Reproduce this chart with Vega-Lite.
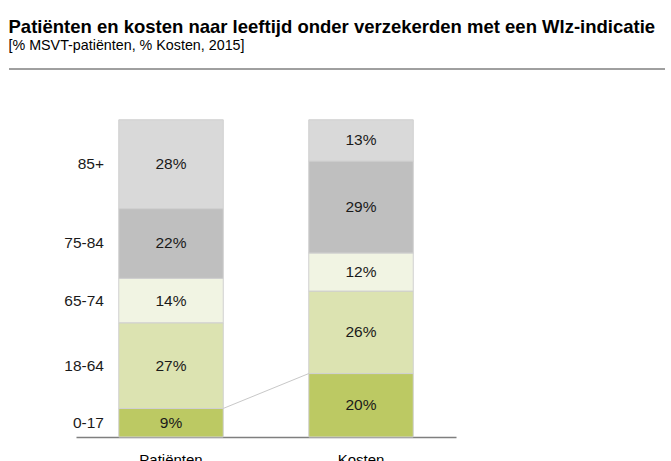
{
  "$schema": "https://vega.github.io/schema/vega-lite/v6.json",
  "width": 656,
  "height": 368,
  "padding": {"left": 8, "right": 7, "top": 17, "bottom": 0},
  "background": "white",
  "config": {
    "view": {"stroke": null},
    "font": "Liberation Sans",
    "title": {"font": "Liberation Sans", "subtitleFont": "Liberation Sans"}
  },
  "title": {
    "text": "Patiënten en kosten naar leeftijd onder verzekerden met een Wlz-indicatie",
    "subtitle": "[% MSVT-patiënten, % Kosten, 2015]",
    "anchor": "start",
    "fontSize": 18.5,
    "fontWeight": "bold",
    "color": "#000000",
    "subtitleFontSize": 14.3,
    "subtitleColor": "#000000",
    "subtitlePadding": 3,
    "offset": 15
  },
  "datasets": {
    "bars": [
      {"cat": "Patiënten", "age": "0-17", "value": 9},
      {"cat": "Patiënten", "age": "18-64", "value": 27},
      {"cat": "Patiënten", "age": "65-74", "value": 14},
      {"cat": "Patiënten", "age": "75-84", "value": 22},
      {"cat": "Patiënten", "age": "85+", "value": 28},
      {"cat": "Kosten", "age": "0-17", "value": 20},
      {"cat": "Kosten", "age": "18-64", "value": 26},
      {"cat": "Kosten", "age": "65-74", "value": 12},
      {"cat": "Kosten", "age": "75-84", "value": 29},
      {"cat": "Kosten", "age": "85+", "value": 13}
    ],
    "connector": [
      {"cat": "Patiënten", "cat2": "Kosten", "ya": 9, "yb": 20}
    ]
  },
  "layer": [
    {
      "data": {"name": "bars"},
      "transform": [
        {"stack": "value", "groupby": ["cat"], "sort": [{"field": "age", "order": "ascending"}], "as": ["y0", "y1"]}
      ],
      "mark": {"type": "bar", "stroke": "#d0d0d0", "strokeWidth": 1},
      "encoding": {
        "x": {"field": "cat", "type": "nominal", "sort": ["Patiënten", "Kosten"],
          "scale": {"domain": ["Patiënten", "Kosten"], "range": [67, 447], "paddingInner": 0.45, "paddingOuter": 0.225},
          "axis": {"title": null, "labelAngle": 0, "labelFontSize": 15, "labelColor": "#000000", "labelPadding": 15, "ticks": false, "domainColor": "#7f7f7f", "domainWidth": 1.5, "labelFont": "Liberation Sans"}},
        "y": {"field": "y1", "type": "quantitative", "scale": {"domain": [0, 116], "nice": false}, "axis": null},
        "y2": {"field": "y0"},
        "color": {"field": "age", "type": "nominal", "legend": null,
          "scale": {"domain": ["0-17", "18-64", "65-74", "75-84", "85+"],
            "range": ["#bcc963", "#dce3b1", "#f1f4e3", "#bfbfbf", "#d9d9d9"]}}
      }
    },
    {
      "data": {"name": "bars"},
      "transform": [
        {"stack": "value", "groupby": ["cat"], "sort": [{"field": "age", "order": "ascending"}], "as": ["y0", "y1"]},
        {"calculate": "(datum.y0 + datum.y1) / 2", "as": "ymid"},
        {"calculate": "datum.value + '%'", "as": "lbl"}
      ],
      "mark": {"type": "text", "fontSize": 15.5, "color": "#1a1a1a", "baseline": "middle", "font": "Liberation Sans"},
      "encoding": {
        "x": {"field": "cat", "type": "nominal"},
        "y": {"field": "ymid", "type": "quantitative"},
        "text": {"field": "lbl"}
      }
    },
    {
      "data": {"name": "bars"},
      "transform": [
        {"stack": "value", "groupby": ["cat"], "sort": [{"field": "age", "order": "ascending"}], "as": ["y0", "y1"]},
        {"calculate": "(datum.y0 + datum.y1) / 2", "as": "ymid"},
        {"filter": "datum.cat === 'Patiënten'"}
      ],
      "mark": {"type": "text", "fontSize": 15.5, "color": "#1a1a1a", "baseline": "middle", "align": "right", "dx": -67, "font": "Liberation Sans"},
      "encoding": {
        "x": {"field": "cat", "type": "nominal"},
        "y": {"field": "ymid", "type": "quantitative"},
        "text": {"field": "age"}
      }
    },
    {
      "data": {"name": "connector"},
      "mark": {"type": "rule", "color": "#c8c8c8", "strokeWidth": 1},
      "encoding": {
        "x": {"field": "cat", "type": "nominal", "bandPosition": 1},
        "x2": {"field": "cat2", "bandPosition": 0},
        "y": {"field": "ya", "type": "quantitative"},
        "y2": {"field": "yb"}
      }
    },
    {
      "data": {"values": [{"top": 116}]},
      "mark": {"type": "rule", "color": "#404040", "strokeWidth": 1},
      "encoding": {
        "y": {"field": "top", "type": "quantitative"}
      }
    }
  ]
}
